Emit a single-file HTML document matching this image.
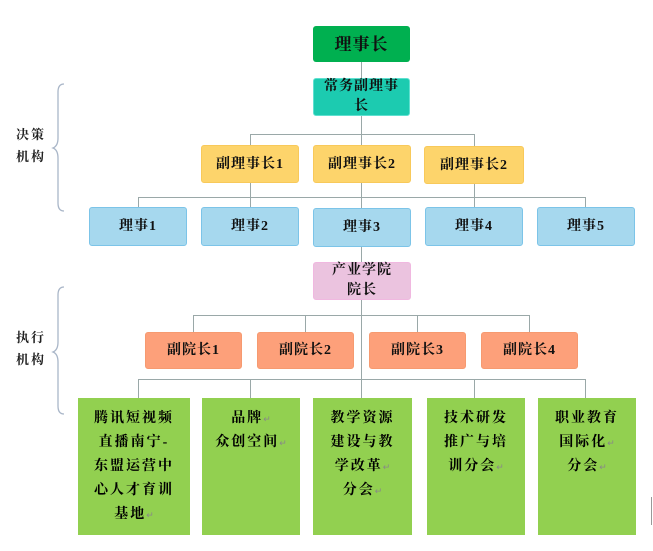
<!DOCTYPE html>
<html><head><meta charset="utf-8"><style>
body{margin:0;width:653px;height:551px;background:#fff;position:relative;overflow:hidden;font-family:"Liberation Serif","Noto Serif CJK SC",serif;}
.b{position:absolute;box-sizing:border-box;border-radius:3px;display:flex;align-items:center;justify-content:center;text-align:center;font-weight:bold;color:#111;font-size:14px;line-height:19px;letter-spacing:1px}
.l{position:absolute;background:#9aa8a8;}
.g{position:absolute;box-sizing:border-box;background:#92d050;font-weight:bold;font-size:14px;line-height:24px;text-align:center;padding-top:9px;color:#000;letter-spacing:2px}
.r{color:#888;font-size:9px;font-weight:normal;letter-spacing:0}
.lab{position:absolute;font-size:13px;line-height:22px;font-weight:bold;color:#222;letter-spacing:2px}
</style></head><body>
<div class="l" style="left:361px;top:62px;width:1px;height:200px"></div>
<div class="l" style="left:250px;top:134px;width:225px;height:1px"></div>
<div class="l" style="left:250px;top:134px;width:1px;height:12px"></div>
<div class="l" style="left:474px;top:134px;width:1px;height:12px"></div>
<div class="l" style="left:138px;top:197px;width:448px;height:1px"></div>
<div class="l" style="left:138px;top:197px;width:1px;height:10px"></div>
<div class="l" style="left:250px;top:183px;width:1px;height:24px"></div>
<div class="l" style="left:474px;top:183px;width:1px;height:24px"></div>
<div class="l" style="left:585px;top:197px;width:1px;height:10px"></div>
<div class="l" style="left:361px;top:300px;width:1px;height:98px"></div>
<div class="l" style="left:193px;top:315px;width:337px;height:1px"></div>
<div class="l" style="left:193px;top:315px;width:1px;height:17px"></div>
<div class="l" style="left:305px;top:315px;width:1px;height:17px"></div>
<div class="l" style="left:417px;top:315px;width:1px;height:17px"></div>
<div class="l" style="left:529px;top:315px;width:1px;height:17px"></div>
<div class="l" style="left:138px;top:379px;width:448px;height:1px"></div>
<div class="l" style="left:138px;top:379px;width:1px;height:19px"></div>
<div class="l" style="left:250px;top:379px;width:1px;height:19px"></div>
<div class="l" style="left:474px;top:379px;width:1px;height:19px"></div>
<div class="l" style="left:585px;top:379px;width:1px;height:19px"></div>
<svg style="position:absolute;left:50px;top:80px" width="20" height="340">
<path d="M14 4 Q8 4 8 12 L8 58 Q8 66 3 68 Q8 70 8 78 L8 123 Q8 131 14 131" fill="none" stroke="#a9b6c8" stroke-width="1.3"/>
<path d="M14 207 Q8 207 8 215 L8 262 Q8 270 3 272 Q8 274 8 282 L8 326 Q8 334 14 334" fill="none" stroke="#a9b6c8" stroke-width="1.3"/>
</svg>
<div class="lab" style="left:16px;top:124px">决策<br>机构</div>
<div class="lab" style="left:16px;top:327px">执行<br>机构</div>
<div class="b" style="left:313px;top:26px;width:97px;height:36px;background:#00b050;font-size:17px">理事长</div>
<div class="b" style="left:313px;top:78px;width:97px;height:38px;background:#1ccbb0;border:1px solid #5fe0d0;line-height:20px">常务副理事<br>长</div>
<div class="b" style="left:201px;top:145px;width:98px;height:38px;background:#fdd46b;border:1px solid #f8c95a">副理事长1</div>
<div class="b" style="left:313px;top:145px;width:98px;height:38px;background:#fdd46b;border:1px solid #f8c95a">副理事长2</div>
<div class="b" style="left:424px;top:146px;width:100px;height:38px;background:#fdd46b;border:1px solid #f8c95a">副理事长2</div>
<div class="b" style="left:89px;top:207px;width:98px;height:39px;background:#a6d8ee;border:1px solid #7cc4e8">理事1</div>
<div class="b" style="left:201px;top:207px;width:98px;height:39px;background:#a6d8ee;border:1px solid #7cc4e8">理事2</div>
<div class="b" style="left:313px;top:208px;width:98px;height:39px;background:#a6d8ee;border:1px solid #7cc4e8">理事3</div>
<div class="b" style="left:425px;top:207px;width:98px;height:39px;background:#a6d8ee;border:1px solid #7cc4e8">理事4</div>
<div class="b" style="left:537px;top:207px;width:98px;height:39px;background:#a6d8ee;border:1px solid #7cc4e8">理事5</div>
<div class="b" style="left:313px;top:262px;width:98px;height:38px;background:#ebc3df;border:1px solid #f0b8e0;line-height:20px">产业学院<br>院长</div>
<div class="b" style="left:145px;top:332px;width:97px;height:37px;background:#fda07a;border:1px solid #f69a70">副院长1</div>
<div class="b" style="left:257px;top:332px;width:97px;height:37px;background:#fda07a;border:1px solid #f69a70">副院长2</div>
<div class="b" style="left:369px;top:332px;width:97px;height:37px;background:#fda07a;border:1px solid #f69a70">副院长3</div>
<div class="b" style="left:481px;top:332px;width:97px;height:37px;background:#fda07a;border:1px solid #f69a70">副院长4</div>
<div class="g" style="left:78px;top:398px;width:112px;height:137px">腾讯短视频<br>直播南宁-<br>东盟运营中<br>心人才育训<br>基地<span class="r">↵</span></div>
<div class="g" style="left:202px;top:398px;width:98px;height:137px">品牌<span class="r">↵</span><br>众创空间<span class="r">↵</span></div>
<div class="g" style="left:313px;top:398px;width:99px;height:137px">教学资源<br>建设与教<br>学改革<span class="r">↵</span><br>分会<span class="r">↵</span></div>
<div class="g" style="left:427px;top:398px;width:98px;height:137px">技术研发<br>推广与培<br>训分会<span class="r">↵</span></div>
<div class="g" style="left:538px;top:398px;width:98px;height:137px">职业教育<br>国际化<span class="r">↵</span><br>分会<span class="r">↵</span></div>
<div style="position:absolute;left:651px;top:497px;width:1px;height:28px;background:#999"></div>
</body></html>
